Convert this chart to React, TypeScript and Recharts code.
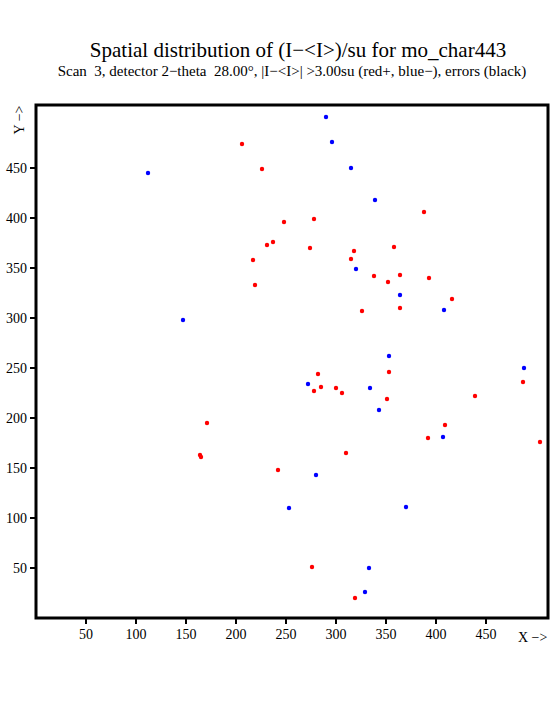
import { ScatterChart, Scatter, XAxis, YAxis, ReferenceArea } from "recharts";

// red = positive deviations, blue = negative deviations (pixel coords)
const redX = [206, 226, 248, 278, 231, 237, 274, 318, 315, 217, 338, 219, 326, 388, 358, 364, 352, 393, 416, 364, 171, 164, 165, 282, 285, 278, 300, 306, 310, 242, 276, 319, 353, 487, 439, 351, 409, 392, 504];
const redY = [474, 449, 396, 399, 373, 376, 370, 367, 359, 358, 342, 333, 307, 406, 371, 343, 336, 340, 319, 310, 195, 163, 161, 244, 231, 227, 230, 225, 165, 148, 51, 20, 246, 236, 222, 219, 193, 180, 176];
const blueX = [112, 147, 290, 296, 315, 339, 320, 364, 408, 353, 272, 334, 280, 253, 333, 329, 488, 343, 407, 370];
const blueY = [445, 298, 501, 476, 450, 418, 349, 323, 308, 262, 234, 230, 143, 110, 50, 26, 250, 208, 181, 111];

const xTicks = [50, 100, 150, 200, 250, 300, 350, 400, 450];
const yTicks = [50, 100, 150, 200, 250, 300, 350, 400, 450];

const redData = redX.map((x, i) => ({ x, y: redY[i] }));
const blueData = blueX.map((x, i) => ({ x, y: blueY[i] }));

const FONT = "'Liberation Serif', 'Times New Roman', serif";
const tickStyle = { fill: "#000", fontSize: 14, fontFamily: FONT };

function Dot({ cx, cy, fill }: any) {
  return <circle cx={cx} cy={cy} r={2.2} fill={fill} />;
}

export default function App() {
  return (
    <div style={{ position: "absolute", left: 0, top: 0, width: 555, height: 725, background: "#fff" }}>
      <ScatterChart width={555} height={725} margin={{ top: 105, right: 7, bottom: 77, left: 6 }}>
        <XAxis
          type="number"
          dataKey="x"
          domain={[0, 512]}
          ticks={xTicks}
          allowDataOverflow
          height={30}
          axisLine={false}
          tickLine={{ stroke: "#000", strokeWidth: 2 }}
          tickSize={6}
          tickMargin={5}
          tick={tickStyle}
        />
        <YAxis
          type="number"
          dataKey="y"
          domain={[0, 513]}
          ticks={yTicks}
          allowDataOverflow
          width={30}
          axisLine={false}
          tickLine={{ stroke: "#000", strokeWidth: 2 }}
          tickSize={6}
          tickMargin={3}
          tick={tickStyle}
        />
        <ReferenceArea x1={0} x2={512} y1={0} y2={513} fill="none" stroke="#000" strokeWidth={3} ifOverflow="visible" />
        <Scatter data={redData} fill="#ff0000" shape={<Dot />} isAnimationActive={false} />
        <Scatter data={blueData} fill="#0000ff" shape={<Dot />} isAnimationActive={false} />
      </ScatterChart>
      <svg width={555} height={725} style={{ position: "absolute", left: 0, top: 0, pointerEvents: "none" }}>
        <text x={298} y={57} textAnchor="middle" fontSize={21} fontFamily={FONT} fill="#000">
          Spatial distribution of (I−&lt;I&gt;)/su for mo_char443
        </text>
        <text x={292} y={76} textAnchor="middle" fontSize={15} fontFamily={FONT} fill="#000" style={{ whiteSpace: "pre" }}>
          {"Scan  3, detector 2−theta  28.00°, |I−<I>| >3.00su (red+, blue−), errors (black)"}
        </text>
        <text transform="translate(24,120) rotate(-90)" textAnchor="middle" fontSize={14} fontFamily={FONT} fill="#000">
          Y −&gt;
        </text>
        <text x={518} y={642} fontSize={14} fontFamily={FONT} fill="#000">
          X −&gt;
        </text>
      </svg>
    </div>
  );
}
